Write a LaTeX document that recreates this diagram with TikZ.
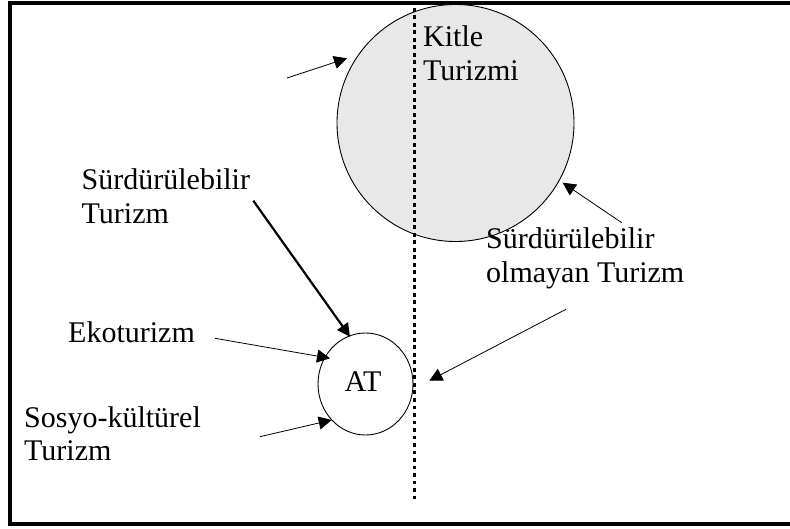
\documentclass[tikz,border=0pt]{standalone}
\usepackage{fontspec}
\setmainfont{Liberation Serif}
\usetikzlibrary{arrows.meta,shapes.geometric}
\definecolor{circgray}{HTML}{E8E8E8}
\begin{document}
\begin{tikzpicture}[x=1pt,y=-1pt,
  lbl/.style={anchor=base west,inner sep=0pt,font=\fontsize{30}{34}\selectfont},
  arr/.style={line width=0.8pt,-{Triangle[length=13pt,width=13pt]}},
  boldarr/.style={line width=2.2pt,-{Triangle[length=13pt,width=13pt]}},
  frameline/.style={line width=4pt},
  divider/.style={line width=3.8pt,dash pattern=on 3.6pt off 3.9pt}]
\useasboundingbox (0,0) rectangle (790,529);
\draw[frameline] (792,3.5) -- (9.5,3.5) -- (9.5,524) -- (792,524);
% circles
\node[circle,draw,line width=0.9pt,fill=circgray,minimum size=237pt,inner sep=0pt] (kitle) at (455.5,123) {};
\node[ellipse,draw,line width=0.9pt,minimum width=95pt,minimum height=102pt,inner sep=0pt] (at) at (365.5,384) {};
\node[inner sep=0pt,font=\fontsize{30}{34}\selectfont] (attext) at (363,382) {AT};
% divider
\coordinate (dtop) at (414.5,8);
\coordinate (dbot) at (414.5,502);
\draw[divider] (dtop) -- (dbot);
% labels
\node[lbl] (k1) at (423,46.7) {Kitle};
\node[lbl] (k2) at (423,81) {Turizmi};
\node[lbl] (s1) at (81.5,190) {Sürdürülebilir};
\node[lbl] (s2) at (81.5,224) {Turizm};
\node[lbl] (eko) at (68,343) {Ekoturizm};
\node[lbl] (sk1) at (24,427) {Sosyo-kültürel};
\node[lbl] (sk2) at (24,460.5) {Turizm};
\node[lbl] (so1) at (486,249) {Sürdürülebilir};
\node[lbl] (so2) at (486,283) {olmayan Turizm};
% arrow ends
\coordinate (a1s) at (287,78);   \coordinate (a1e) at (347,58.3);
\coordinate (a2s) at (621.7,222.7); \coordinate (a2e) at (562.7,182.7);
\coordinate (a3s) at (253.3,200.7); \coordinate (a3e) at (350,336.7);
\coordinate (a4s) at (215,338.3); \coordinate (a4e) at (330,358.3);
\coordinate (a5s) at (260,436.7); \coordinate (a5e) at (331.7,420);
\coordinate (a6s) at (566,309.3); \coordinate (a6e) at (429.3,380.7);
\draw[arr] (a1s) -- (a1e);
\draw[arr] (a2s) -- (a2e);
\draw[boldarr] (a3s) -- (a3e);
\draw[arr] (a4s) -- (a4e);
\draw[arr] (a5s) -- (a5e);
\draw[arr] (a6s) -- (a6e);
\end{tikzpicture}
\end{document}
